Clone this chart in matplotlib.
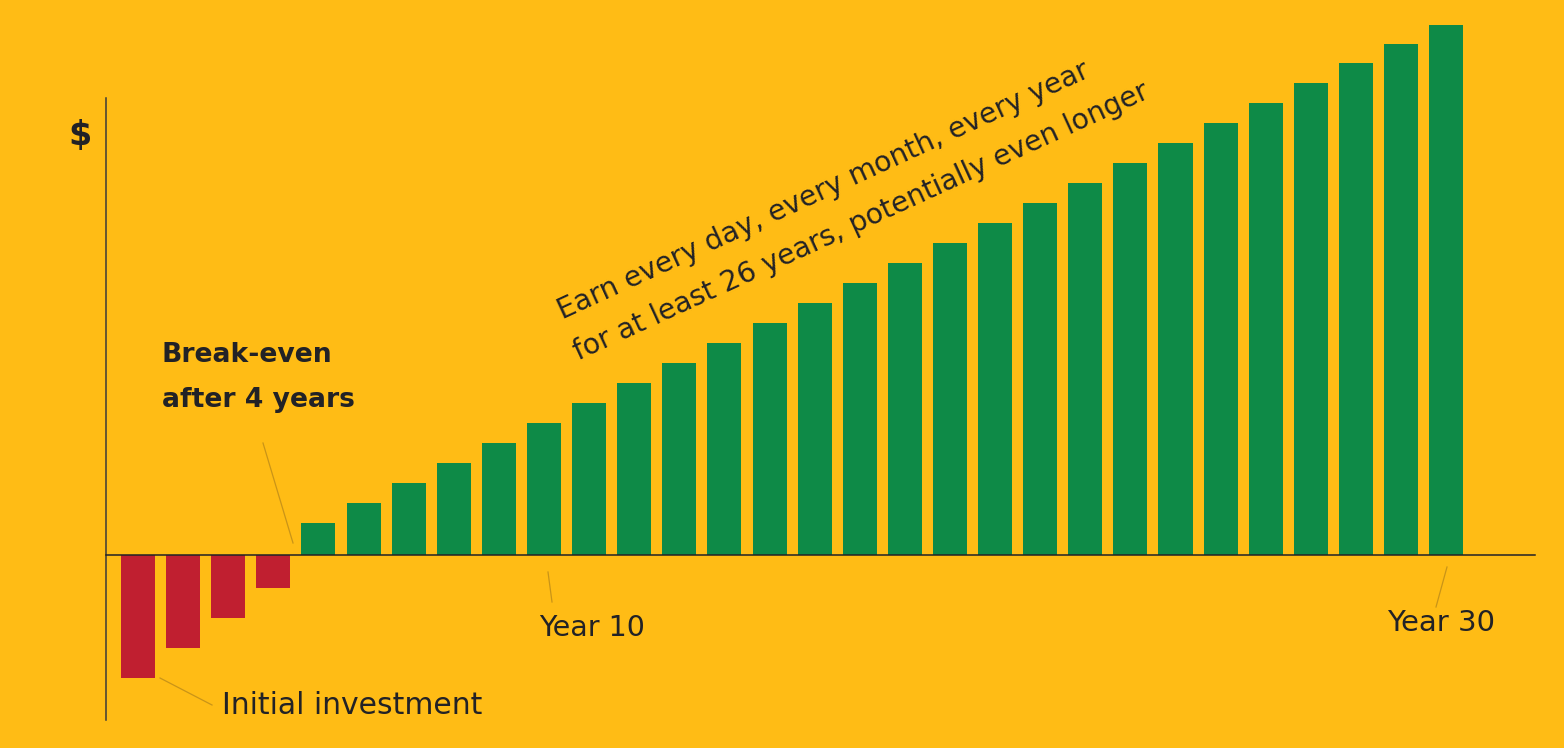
import numpy as np
import matplotlib.pyplot as plt
from matplotlib.lines import Line2D

# yearly cumulative value (arbitrary units)
years = list(range(1, 31))
values = [-123, -93, -63, -33,
          32, 52, 72, 92, 112, 132, 152, 172, 192, 212, 232, 252, 272,
          292, 312, 332, 352, 372, 392, 412, 432, 452, 472, 492, 511, 530]
labels = {10: 'Year 10', 30: 'Year 30'}

BG = '#FFBC15'
GREEN = '#0E8A47'
RED = '#C01F30'
INK = '#222226'
LEADER = '#C99418'

W, H = 1564, 748
plt.rcParams['font.family'] = ['DejaVu Sans']

fig = plt.figure(figsize=(W / 100, H / 100), dpi=100, facecolor=BG)


def fx(x):
    return x / W


def fy(y):
    return 1 - y / H


# axes box in pixel terms
ax = fig.add_axes([fx(106), fy(720), fx(1535) - fx(106), fy(98) - fy(720)])
ax.set_facecolor(BG)

colors = [RED if v < 0 else GREEN for v in values]
ax.bar(years, values, width=0.755, color=colors, clip_on=False, zorder=2)

ax.set_xlim(0.29, 31.97)
ax.set_ylim(-165, 457)

for s in ['top', 'right']:
    ax.spines[s].set_visible(False)
ax.spines['bottom'].set_position(('data', 0))
ax.spines['bottom'].set_color(INK)
ax.spines['bottom'].set_linewidth(1.1)
ax.spines['left'].set_color('#3a3a3a')
ax.spines['left'].set_linewidth(1.1)
ax.set_xticks([])
ax.set_yticks([])

# texts
fig.text(fx(80), fy(135), '$', fontsize=24, fontweight='bold', color=INK,
         ha='center', va='center')
fig.text(fx(162), fy(355), 'Break-even', fontsize=19.2, fontweight='bold',
         color=INK, ha='left', va='center')
fig.text(fx(162), fy(400), 'after 4 years', fontsize=19.2, fontweight='bold',
         color=INK, ha='left', va='center')
fig.text(fx(222), fy(706), 'Initial investment', fontsize=21.5, color=INK,
         ha='left', va='center')
fig.text(fx(592), fy(628), labels[10], fontsize=20.5, color=INK,
         ha='center', va='center')
fig.text(fx(1441), fy(623), labels[30], fontsize=21, color=INK,
         ha='center', va='center')

fig.text(fx(562), fy(320), 'Earn every day, every month, every year',
         fontsize=20.3, color=INK, rotation=24.7, rotation_mode='anchor',
         ha='left', va='baseline')
fig.text(fx(578), fy(361), 'for at least 26 years, potentially even longer',
         fontsize=20.3, color=INK, rotation=24.7, rotation_mode='anchor',
         ha='left', va='baseline')

# leader lines
leaders = [((263, 443), (293, 543)),
           ((160, 678), (212, 705)),
           ((548, 572), (552, 602)),
           ((1447, 567), (1436, 607))]
for (x0, y0), (x1, y1) in leaders:
    fig.add_artist(Line2D([fx(x0), fx(x1)], [fy(y0), fy(y1)],
                          color=LEADER, linewidth=0.9))

fig.savefig('out.png', dpi=100, facecolor=BG)
